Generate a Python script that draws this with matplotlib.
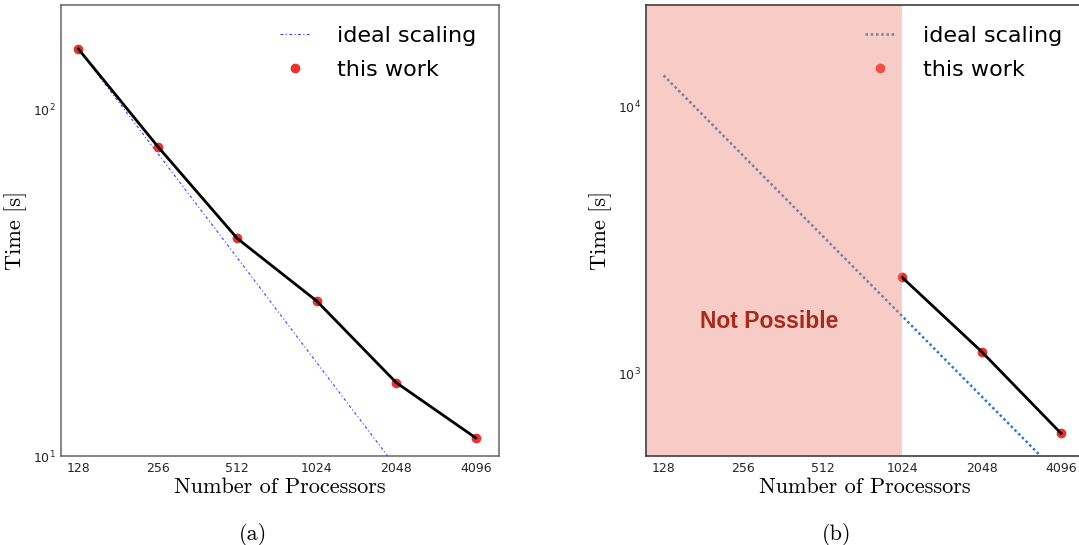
import matplotlib
matplotlib.use("Agg")
import matplotlib.pyplot as plt
from matplotlib.ticker import NullFormatter, NullLocator, FixedLocator, FixedFormatter

# Processor counts and measured wall-clock times
procs = [128, 256, 512, 1024, 2048, 4096]
proc_labels = ["128", "256", "512", "1024", "2048", "4096"]

time_a = [149, 78.0, 42.4, 28.0, 16.3, 11.3]
ideal_a = [149, 74.5, 37.3, 18.6, 9.3, 4.7]

procs_b = [1024, 2048, 4096]
time_b = [2290, 1206, 595]
ideal_b = [13100, 6550, 3275, 1640, 819, 410]

fig = plt.figure(figsize=(10.79, 5.45), dpi=100)
W, H = 1079, 545

def px_axes(x0, x1, y0, y1):
    return fig.add_axes([x0 / W, 1 - y1 / H, (x1 - x0) / W, (y1 - y0) / H])

ax_a = px_axes(61, 499, 5.3, 456.3)
ax_b = px_axes(646.3, 1084.3, 5.3, 456.3)

label_font = dict(family="cmr10", size=16)
red = "#e8322b"

def style_axes(ax, spine_color):
    ax.set_xscale("log", base=2)
    ax.set_yscale("log")
    ax.xaxis.set_major_locator(FixedLocator(procs))
    ax.xaxis.set_major_formatter(FixedFormatter(proc_labels))
    ax.xaxis.set_minor_locator(NullLocator())
    ax.yaxis.set_minor_formatter(NullFormatter())
    ax.tick_params(which="both", length=0, labelsize=9, pad=4, colors="#262626")
    for s in ax.spines.values():
        s.set_color(spine_color)
        s.set_linewidth(1.2)
        s.set_zorder(8)
    ax.set_xlim(2 ** 6.782, 2 ** 12.293)
    ax.set_xlabel("Number of Processors", fontdict=label_font, labelpad=2)
    ax.set_ylabel("Time [s]", fontdict=label_font, labelpad=4)

legend_kw = dict(loc="upper right", bbox_to_anchor=(0.969, 0.974), borderaxespad=0,
                 frameon=False, fontsize=16, handlelength=1.3, handletextpad=1.27,
                 labelspacing=0.62, numpoints=1)

# (a)
ax_a.plot(procs, ideal_a, linestyle=(0, (2.5, 2.2, 1, 2.2)), color="#3b3bff", lw=0.8,
          label="ideal scaling", zorder=2)
ax_a.plot(procs, time_a, "o", color=red, ms=6, label="this work", zorder=3)
ax_a.plot(procs, time_a, "-", color="black", lw=2, zorder=4)
style_axes(ax_a, "#707070")
ax_a.set_ylim(10, 199)
ax_a.legend(**legend_kw)

# (b)
ax_b.plot(procs, ideal_b, linestyle=(0, (1, 1.1)), color="#2f7bc0", lw=1.8,
          label="ideal scaling", zorder=2)
ax_b.plot(procs_b, time_b, "o", color=red, ms=6, label="this work", zorder=3)
ax_b.plot(procs_b, time_b, "-", color="black", lw=2, zorder=4)
style_axes(ax_b, "#404040")
ax_b.set_ylim(488, 24000)
ax_b.legend(**legend_kw)
ax_b.axvspan(2 ** 6.5, 1024, color="#eb8073", alpha=0.4, lw=0, zorder=6)
ax_b.text(0.280, 0.298, "Not Possible", transform=ax_b.transAxes, ha="center", va="center",
          family="Liberation Sans", weight="bold", size=16.5, color="#a82a1c", zorder=7)

fig.text(253 / W, 1 - 535 / H, "(a)", family="cmr10", size=16, ha="center", va="center")
fig.text(837 / W, 1 - 535 / H, "(b)", family="cmr10", size=16, ha="center", va="center")

fig.savefig("out.png", dpi=100)
